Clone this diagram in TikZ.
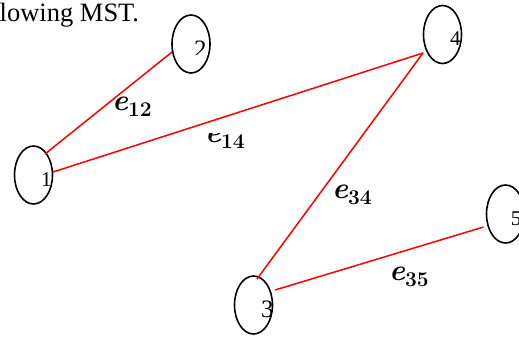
\documentclass[tikz,border=0pt]{standalone}
\usepackage{fontspec}
\newfontfamily\tnr{Liberation Serif}
\usetikzlibrary{shapes.geometric,calc}
\newcommand{\elabtext}[1]{{\bfseries\itshape e}\raisebox{-6.5pt}{\fontsize{21}{24}\selectfont\bfseries #1}}
\begin{document}
\begin{tikzpicture}[x=1pt,y=-1pt,
  vtx/.style={draw,ellipse,line width=1.6pt,minimum width=38pt,minimum height=58pt,inner sep=0pt},
  edge/.style={draw=red,line width=1.5pt},
  num/.style={anchor=base west,inner sep=0pt,font=\tnr\fontsize{21}{24}\selectfont},
  bignum/.style={num,font=\tnr\fontsize{25}{30}\selectfont},
  elab/.style={anchor=base west,inner sep=0pt,font=\fontsize{30}{34}\selectfont}]
\useasboundingbox (0,0) rectangle (519,338);
\node[anchor=base west,inner sep=0pt,font=\tnr\fontsize{26.5}{30}\selectfont] (title) at (-0.5,21) {lowing MST.};
% vertices
\node[vtx] (n1) at (33.5,175) {};
\node[vtx] (n2) at (191,44) {};
\node[vtx] (n3) at (253.5,305) {};
\node[vtx] (n4) at (442.5,34.5) {};
\node[vtx] (n5) at (505.5,214) {};
% vertex numbers (clipped by their ellipses)
\begin{scope}
  \clip (n1.center) ellipse [x radius=18pt,y radius=28pt];
  \node[num] (d1) at (41,186) {1};
\end{scope}
\begin{scope}
  \clip (150,0) rectangle (230,54.5);
  \clip (n2.center) ellipse [x radius=18pt,y radius=28pt];
  \node[bignum] (d2) at (194,57) {2};
\end{scope}
\begin{scope}
  \clip (n3.center) ellipse [x radius=18pt,y radius=28pt];
  \node[bignum] (d3) at (261,317) {3};
\end{scope}
\begin{scope}
  \clip (n4.center) ellipse [x radius=18pt,y radius=28pt];
  \node[num] (d4) at (450,45) {4};
\end{scope}
\begin{scope}
  \clip (n5.center) ellipse [x radius=18pt,y radius=28pt];
  \node[num] (d5) at (510.6,225) {5};
\end{scope}
% edges
\draw[edge] ($(n1.center)+(11.5,-21)$) -- ($(n2.center)+(-19,8)$);
\draw[edge] ($(n1.center)+(19.5,-3)$) -- ($(n4.center)+(-19.5,18.5)$);
\draw[edge] ($(n4.center)+(-19.5,18.5)$) -- ($(n3.center)+(3.5,-26)$);
\draw[edge] ($(n3.center)+(21.5,-15)$) -- ($(n5.center)+(-22,13)$);
% edge labels
\node[elab] (l12) at (112,110) {\elabtext{12}};
\begin{scope}
  \clip (190,133) rectangle (270,160);
  \node[elab] (l14) at (205,142) {\elabtext{14}};
\end{scope}
\node[elab] (l34) at (332,198) {\elabtext{34}};
\node[elab] (l35) at (389,280) {\elabtext{35}};
\end{tikzpicture}
\end{document}
